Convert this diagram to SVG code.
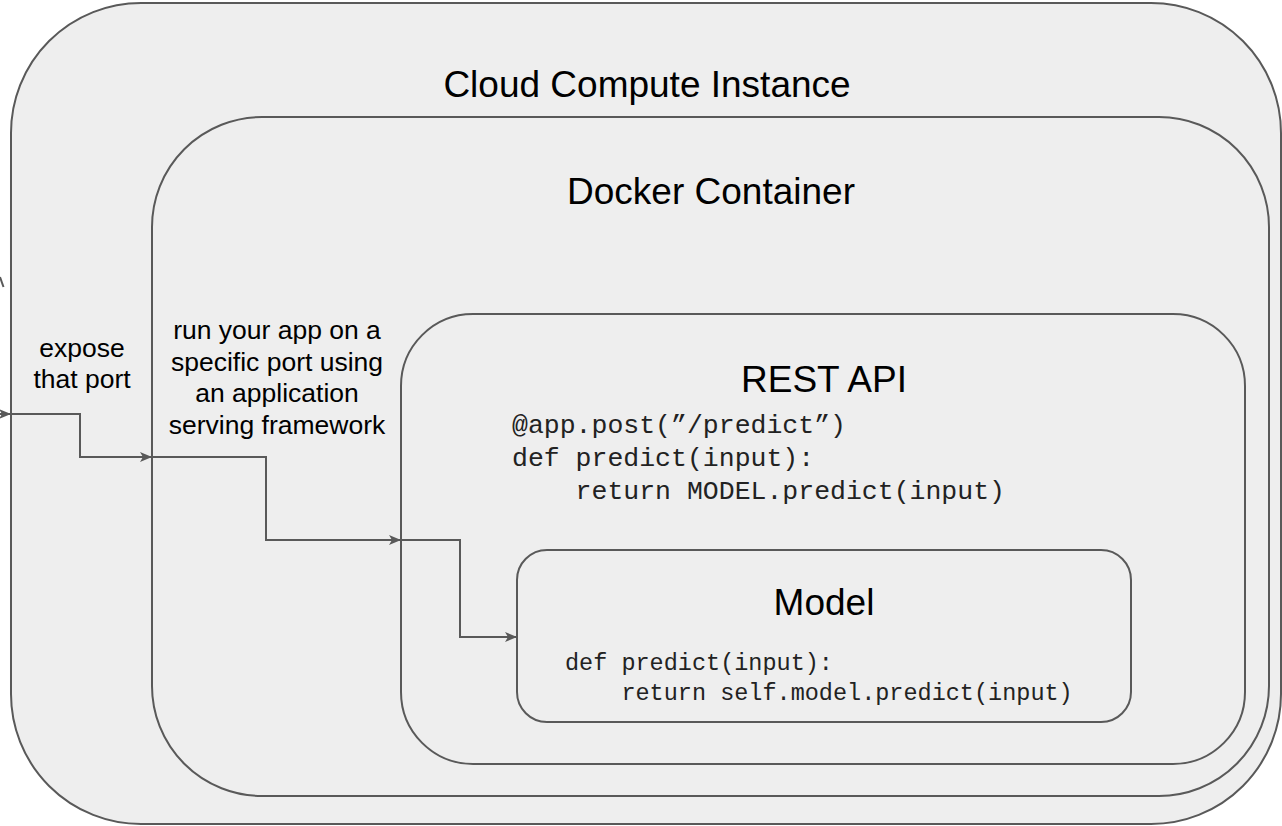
<svg xmlns="http://www.w3.org/2000/svg" width="1282" height="826" viewBox="0 0 1282 826">
  <style>
    .box { fill: #eeeeee; stroke: #595959; stroke-width: 2; }
    .title { font-family: "Liberation Sans", Arial, sans-serif; font-size: 37px; fill: #000000; text-anchor: middle; }
    .label { font-family: "Liberation Sans", Arial, sans-serif; font-size: 26.5px; fill: #000000; text-anchor: middle; }
    .code { font-family: "Liberation Mono", "Courier New", monospace; fill: #222222; white-space: pre; }
    .conn { fill: none; stroke: #595959; stroke-width: 2; }
  </style>
  <defs>
    <marker id="arrow" viewBox="0 0 12 10" refX="12" refY="5" markerWidth="12" markerHeight="10" markerUnits="userSpaceOnUse" orient="auto">
      <path d="M0,0 L12,5 L0,10 L3,5 z" fill="#595959"/>
    </marker>
  </defs>
  <rect width="1282" height="826" fill="#ffffff"/>

  <g id="cloud-instance">
    <rect class="box" x="11" y="3" width="1270" height="821" rx="130" ry="130"/>
    <text class="title" x="647" y="97">Cloud Compute Instance</text>
  </g>

  <g id="docker-container">
    <rect class="box" x="152" y="117" width="1117" height="679" rx="110" ry="110"/>
    <text class="title" x="711" y="204">Docker Container</text>
  </g>

  <g id="rest-api">
    <rect class="box" x="401" y="314" width="844" height="450" rx="72" ry="72"/>
    <text class="title" x="824" y="392">REST API</text>
    <text class="code" font-size="26.5" x="512" y="433">@app.post(”/predict”)</text>
    <text class="code" font-size="26.5" x="512" y="466">def predict(input):</text>
    <text class="code" font-size="26.5" x="512" y="499">    return MODEL.predict(input)</text>
  </g>

  <g id="model">
    <rect class="box" x="517" y="550" width="614" height="172" rx="30" ry="30"/>
    <text class="title" x="824" y="615">Model</text>
    <text class="code" font-size="23.5" x="565" y="670">def predict(input):</text>
    <text class="code" font-size="23.5" x="565" y="700">    return self.model.predict(input)</text>
  </g>

  <g id="label-expose">
    <text class="label" x="82" y="357">expose</text>
    <text class="label" x="82" y="388">that port</text>
  </g>

  <g id="label-run">
    <text class="label" x="277" y="339">run your app on a</text>
    <text class="label" x="277" y="371">specific port using</text>
    <text class="label" x="277" y="402">an application</text>
    <text class="label" x="277" y="434">serving framework</text>
  </g>

  <g id="connectors">
    <path class="conn" d="M-20,414 H11" marker-end="url(#arrow)"/>
    <path class="conn" d="M11,414 H80 V457 H152" marker-end="url(#arrow)"/>
    <path class="conn" d="M152,457 H266 V540 H401" marker-end="url(#arrow)"/>
    <path class="conn" d="M401,540 H460 V637 H517" marker-end="url(#arrow)"/>
    <path class="conn" d="M0,277 L3.5,287" stroke-width="1.5"/>
  </g>
</svg>
